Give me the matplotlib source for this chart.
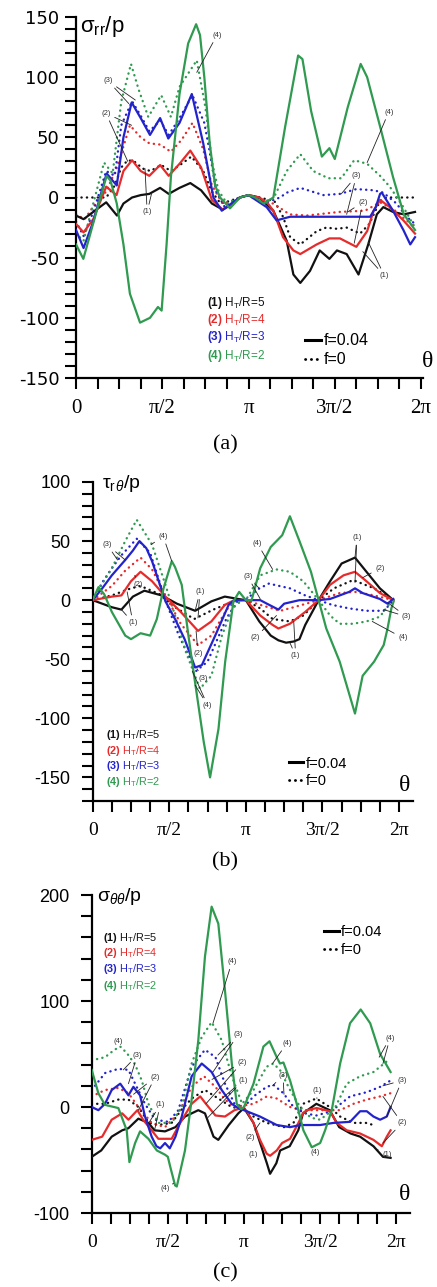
import numpy as np
import matplotlib
matplotlib.use('Agg')
import matplotlib.pyplot as plt
from matplotlib.ticker import FixedLocator, MultipleLocator, NullFormatter
from matplotlib.lines import Line2D

plt.rcParams.update({
    'font.family': 'Liberation Sans',
    'mathtext.fontset': 'custom',
    'mathtext.rm': 'Liberation Sans',
    'mathtext.it': 'Liberation Sans:italic',
    'mathtext.bf': 'Liberation Sans:bold',
    'axes.unicode_minus': False,
})

# --- data: (k, value) with theta = k * pi/8 ---
# panel (a) sigma_rr / p
a_black_solid = [(0, -15), (0.35, -18), (0.8, -12), (1.4, -4), (1.9, -15), (2.2, -5), (2.6, 0), (3.0, 2), (3.4, 3),
                 (3.9, 8), (4.3, 3), (4.8, 8), (5.3, 12), (5.8, 6), (6.3, -5), (6.8, -10), (7.2, -6), (7.6, 0), (8.0, 2),
                 (8.5, 0), (9.15, -11), (9.77, -36), (10.08, -64), (10.4, -71), (10.85, -61), (11.3, -44), (11.75, -51),
                 (12.1, -44), (12.55, -47), (13.1, -64), (13.55, -39), (13.95, -14), (14.25, -8), (14.7, -12),
                 (15.2, -14), (15.72, -12)]
a_black_dotted = [(0, 0), (1.4, 0), (1.8, 10), (2.1, 25), (2.4, 31), (2.7, 30), (3.1, 24), (3.45, 22), (3.95, 27),
                  (4.4, 22), (4.9, 28), (5.35, 34), (5.9, 22), (6.3, 5), (6.7, -5), (7.1, -3), (7.6, 0), (8.0, 2),
                  (8.5, 0), (9.2, -3), (9.6, -16), (9.93, -33), (10.4, -39), (11.16, -28), (11.6, -25), (12.09, -26),
                  (12.55, -25), (13.17, -30), (13.6, -22), (14.09, -3), (14.4, 0), (15.72, 0)]
a_red_solid = [(0, -22), (0.35, -29), (0.8, -18), (1.4, 9), (1.88, 2), (2.2, 22), (2.6, 31), (3.0, 22), (3.4, 18),
               (3.9, 27), (4.3, 18), (4.8, 28), (5.3, 39), (5.8, 25), (6.3, -2), (6.8, -10), (7.2, -6), (7.6, 0),
               (8.0, 2), (8.5, 0), (8.9, -5), (9.15, -11), (9.6, -33), (10.08, -44), (10.4, -47), (11.16, -39),
               (11.75, -34), (12.24, -34), (13.0, -41), (13.5, -28), (13.8, -11), (14.1, -2), (14.55, -8),
               (15.18, -19), (15.72, -30)]
a_red_dotted = [(0, -14), (0.4, -18), (0.9, -5), (1.4, 5), (1.9, 25), (2.5, 60), (3.0, 50), (3.4, 45), (3.9, 44),
                (4.4, 38), (4.9, 48), (5.4, 62), (5.9, 40), (6.3, 10), (6.8, -5), (7.2, -3), (7.6, 0), (8.0, 2),
                (8.6, -4), (9.15, -5), (9.9, -14), (10.7, -15), (12.2, -12), (13.4, -11), (14.1, -4), (14.8, -11),
                (15.72, -25)]
a_blue_solid = [(0, -27), (0.35, -42), (0.8, -20), (1.42, 20), (1.89, 10), (2.2, 50), (2.58, 79), (3.0, 66),
                (3.43, 52), (3.9, 66), (4.28, 49), (4.8, 62), (5.37, 86), (5.9, 45), (6.37, 0), (6.76, -11),
                (7.2, -5), (7.6, 0), (8.0, 2), (8.84, -8), (9.3, -19), (9.93, -16), (13.64, -16), (13.9, -8),
                (14.1, 3), (14.18, 4), (14.7, -11), (15.18, -27), (15.5, -39), (15.72, -33)]
a_blue_dotted = [(0, -20), (0.35, -32), (0.8, -12), (1.4, 22), (1.8, 18), (2.1, 60), (2.6, 80), (3.0, 68),
                 (3.4, 55), (3.9, 64), (4.3, 52), (4.8, 66), (5.4, 85), (5.95, 62), (6.2, 38), (6.5, 5), (6.9, -8),
                 (7.3, -3), (7.6, 0), (8.0, 2), (8.84, -4), (9.46, 0), (9.77, 4), (10.4, 8), (11.47, 2), (12.24, 3),
                 (13.0, 7), (13.8, 6), (14.25, 4), (14.86, -5), (15.33, -16), (15.72, -22)]
a_green_solid = [(0, -39), (0.34, -51), (0.96, -11), (1.42, 18), (1.6, 14), (1.89, -5), (2.2, -39), (2.5, -80),
                 (2.97, -104), (3.43, -100), (3.8, -91), (3.97, -94), (4.2, -39), (4.4, 17), (4.8, 86), (5.2, 128),
                 (5.57, 144), (5.75, 135), (5.95, 100), (6.2, 45), (6.45, 10), (6.68, 0), (7.14, -9), (7.6, 0),
                 (8.0, 2), (8.3, 0), (8.7, -5), (9.15, 0), (9.7, 59), (10.3, 118), (10.5, 115), (10.9, 72),
                 (11.4, 34), (11.75, 41), (12.0, 32), (12.6, 75), (13.2, 111), (13.5, 100), (14.1, 59),
                 (14.7, 17), (15.2, -14), (15.72, -27)]
a_green_dotted = [(0, -30), (0.35, -36), (0.8, -5), (1.3, 29), (1.7, 20), (2.1, 80), (2.55, 111), (2.9, 90),
                  (3.35, 67), (3.95, 85), (4.4, 67), (4.8, 92), (5.6, 114), (6.0, 75), (6.3, 30), (6.6, 6),
                  (7.0, -5), (7.6, 0), (8.0, 2), (8.6, -4), (9.15, -1), (9.77, 22), (10.4, 36), (11.0, 22),
                  (11.7, 16), (12.3, 16), (12.9, 31), (13.5, 28), (14.1, 18), (14.55, 9), (15.18, -8),
                  (15.72, -25)]

# panel (b) tau_rtheta / p
b_black_solid = [(0, 0), (0.5, -3), (1.0, -6), (1.5, -8), (2.1, 3), (2.7, 8), (3.6, 4), (4.4, -3), (5.35, -9),
                 (6.2, -1), (6.9, 3), (7.6, 1), (8.0, 0), (8.7, -18), (9.3, -30), (9.7, -34), (10.1, -36),
                 (10.5, -35), (10.8, -33), (11.1, -21), (11.8, 0), (12.4, 16), (13.0, 31), (13.7, 36), (14.3, 24),
                 (15.0, 10), (15.7, 0)]
b_black_dotted = [(0, 0), (1.0, 4), (2.0, 10), (2.5, 12), (3.5, 5), (4.2, -5), (5.3, -16), (6.3, -8), (7.5, 0),
                  (8.0, 0), (8.75, -7), (9.4, -16), (10.3, -18), (11.0, -13), (11.8, 0), (12.6, 10), (13.6, 17),
                  (14.7, 10), (15.7, 0)]
b_red_solid = [(0, 0), (1.0, 3), (1.5, 4), (2.0, 16), (2.5, 24), (3.1, 16), (3.8, 3), (4.6, -10), (5.5, -26),
               (6.2, -18), (6.9, -4), (7.4, 0), (8.0, 0), (8.75, -13), (9.4, -21), (9.7, -24), (10.3, -20),
               (11.1, -10), (11.8, 0), (12.4, 13), (13.1, 21), (13.7, 24), (14.3, 16), (15.0, 6), (15.7, 0)]
b_red_dotted = [(0, 0), (1.0, 12), (1.7, 25), (2.5, 36), (3.1, 26), (3.8, 4), (4.6, -20), (5.5, -38), (6.2, -30),
                (7.0, -8), (7.5, 0), (8.0, 0), (8.75, -4), (9.8, -9), (10.5, -6), (11.8, 0), (12.9, 6), (13.7, 7),
                (14.7, 4), (15.7, 0)]
b_blue_solid = [(0, 0), (0.5, 10), (1.0, 21), (1.7, 34), (2.1, 42), (2.44, 50), (2.8, 44), (3.1, 33), (3.8, -1),
                (4.3, -16), (4.8, -33), (5.35, -57), (5.7, -55), (6.4, -30), (7.1, -4), (7.4, 0), (8.0, 0),
                (8.75, 0), (9.1, -3), (9.7, -8), (10.0, -3), (10.8, 0), (11.8, 0), (12.4, 1), (12.9, 4), (13.4, 7),
                (13.7, 10), (14.1, 6), (15.0, 1), (15.4, -3), (15.7, 1)]
b_blue_dotted = [(0, 0), (0.5, 15), (1.0, 27), (1.5, 38), (2.3, 52), (3.0, 40), (3.8, 0), (4.5, -30), (5.4, -60),
                 (6.0, -52), (7.0, -15), (7.6, 0), (8.0, 0), (8.6, 9), (9.2, 14), (10.3, 10), (11.1, 4), (11.8, 0),
                 (12.5, -4), (13.4, -7), (14.3, -9), (15.2, -9), (15.5, -4), (15.7, 0)]
b_green_solid = [(0, 0), (0.3, 11), (0.6, 5), (1.0, -10), (1.7, -30), (2.0, -33), (2.5, -28), (3.0, -30),
                 (3.35, -16), (3.7, 10), (4.13, 33), (4.3, 28), (4.65, 13), (5.0, -30), (5.35, -70), (5.8, -120),
                 (6.13, -150), (6.57, -109), (6.92, -52), (7.35, -1), (7.65, 7), (8.0, 0), (8.3, 0), (8.75, 27),
                 (9.3, 45), (9.6, 50), (9.9, 55), (10.3, 71), (10.8, 50), (11.4, 24), (11.8, 0), (12.2, -24),
                 (12.9, -52), (13.7, -96), (14.1, -64), (14.7, -52), (15.2, -38), (15.4, -24), (15.6, -7),
                 (15.72, -1)]
b_green_dotted = [(0, 0), (0.5, 14), (1.0, 27), (1.7, 50), (2.3, 68), (3.1, 47), (3.8, 13), (4.3, -13), (4.8, -41),
                  (5.6, -75), (6.2, -64), (6.75, -30), (7.3, -7), (7.8, 0), (8.0, 0), (8.75, 21), (9.6, 26),
                  (10.3, 24), (11.0, 16), (11.8, 0), (12.4, -13), (12.9, -20), (13.6, -20), (14.3, -18),
                  (15.0, -14), (15.6, -1)]

# panel (c) sigma_thetatheta / p
c_black_solid = [(0, -47), (0.5, -41), (1.05, -28), (1.6, -22), (1.93, -20), (2.45, -11), (2.98, -15), (3.3, -22),
                 (3.85, -23), (4.4, -19), (4.9, -9), (5.6, -3), (5.95, -6), (6.4, -28), (6.65, -31), (7.2, -17),
                 (7.7, -6), (8.0, -1), (8.5, -15), (8.85, -34), (9.2, -53), (9.37, -63), (9.7, -53), (9.9, -41),
                 (10.4, -37), (10.85, -22), (11.1, -6), (11.8, 3), (12.5, -3), (13.0, -19), (13.6, -25),
                 (14.1, -28), (14.8, -37), (15.3, -47), (15.7, -48)]
c_black_dotted = [(0, 3), (0.7, 3), (1.4, 7), (1.93, 7), (2.45, 0), (3.0, -15), (3.5, -17), (4.2, -15), (4.7, -3),
                  (5.25, 8), (5.95, 16), (6.65, 8), (7.35, 0), (8.0, -2), (8.5, -9), (9.2, -15), (10.1, -19),
                  (10.6, -15), (11.1, 3), (11.8, 8), (12.5, 0), (13.05, -9), (13.75, -15), (14.4, -15),
                  (14.8, -17)]
c_red_solid = [(0, -31), (0.55, -28), (1.05, -12), (1.6, -6), (1.93, -12), (2.4, -3), (2.7, -12), (3.15, -22),
               (3.5, -30), (4.2, -30), (4.65, -15), (5.25, 3), (5.7, 10), (6.0, 3), (6.5, -8), (7.0, -9),
               (7.5, -3), (7.9, -1), (8.15, -4), (8.5, -15), (8.84, -31), (9.19, -44), (9.37, -46), (9.72, -41),
               (10.0, -34), (10.42, -30), (10.86, -15), (11.1, -6), (11.3, -3), (11.82, -1), (12.52, -4),
               (12.87, -15), (13.4, -22), (14.1, -25), (14.8, -31), (15.24, -37), (15.5, -28), (15.7, -22)]
c_red_dotted = [(0, 10), (0.7, 16), (1.4, 18), (1.93, 13), (2.45, 0), (3.15, -15), (3.85, -19), (4.55, -6),
                (5.25, 19), (5.9, 29), (6.5, 19), (7.0, 7), (7.5, 0), (8.5, 3), (9.2, 10), (9.72, 8), (10.42, 0),
                (11.0, -3), (11.8, -3), (12.5, -3), (13.05, -3), (13.75, 3), (14.45, 7), (15.15, 10), (15.7, 13)]
c_blue_solid = [(0, 0), (0.35, -3), (0.7, 3), (1.05, 16), (1.5, 22), (1.93, 11), (2.19, 19), (2.54, 11), (2.8, -9),
                (3.15, -28), (3.4, -37), (3.6, -39), (3.85, -34), (4.1, -39), (4.4, -28), (4.73, -9), (5.25, 29),
                (5.78, 41), (6.3, 33), (6.83, 16), (7.35, 3), (7.7, -1), (8.0, -3), (8.84, -9), (9.72, -17),
                (10.42, -19), (10.95, -17), (12.0, -17), (12.7, -15), (13.57, -14), (14.1, -4), (14.45, -4),
                (14.8, -9), (15.15, -12), (15.5, -9), (15.7, 0)]
c_blue_dotted = [(0, 16), (0.7, 32), (1.4, 36), (1.93, 35), (2.28, 22), (2.8, 3), (3.33, -12), (4.03, -14),
                 (4.55, -3), (5.25, 38), (5.95, 54), (6.5, 47), (7.0, 22), (7.5, 3), (8.0, 0), (8.5, 10),
                 (9.19, 19), (9.54, 21), (10.07, 13), (10.6, 0), (11.2, -6), (11.8, -8), (12.4, -5), (12.87, 0),
                 (13.57, 10), (14.45, 14), (15.15, 19), (15.7, 25)]
c_green_solid = [(0, 35), (0.35, 13), (0.7, 2), (1.4, -1), (1.84, -22), (1.98, -52), (2.28, -34), (2.54, -23),
                 (2.98, -30), (3.42, -41), (3.85, -45), (4.0, -47), (4.12, -56), (4.38, -74), (4.47, -75),
                 (4.9, -41), (5.25, 7), (5.6, 63), (5.95, 142), (6.3, 189), (6.65, 173), (7.0, 110), (7.36, 41),
                 (7.62, 3), (7.85, -2), (8.0, 0), (8.5, 22), (9.02, 57), (9.34, 62), (9.72, 47), (9.89, 41),
                 (10.07, 42), (10.42, 25), (10.77, 3), (11.12, -22), (11.56, -38), (12.0, -34), (12.26, -22),
                 (12.61, -3), (13.05, 41), (13.57, 79), (14.13, 92), (14.63, 79), (15.15, 50), (15.7, 33)]
c_green_dotted = [(0, 44), (0.7, 47), (1.2, 54), (1.5, 57), (1.84, 51), (2.28, 40), (2.63, 25), (2.98, 3),
                  (3.5, -15), (4.2, -15), (4.73, 0), (5.25, 41), (5.78, 66), (6.3, 80), (6.83, 63), (7.36, 29),
                  (7.9, 3), (8.5, 16), (9.19, 38), (9.54, 41), (9.89, 35), (10.42, 16), (10.95, 0), (11.5, -10),
                  (12.0, -12), (12.5, -5), (12.8, 0), (13.4, 22), (14.1, 29), (14.8, 33), (15.5, 43), (15.7, 44)]

curve_labels = ['(1)', '(2)', '(3)', '(4)']
ratios = ['5', '4', '3', '2']
colors = ['#111111', '#e52b2b', '#2323cc', '#2f9a50']

# annotation labels: (text, text position (k, v), targets [(k, v), ...])
a_notes = [('(3)', (1.48, 97), [(2.45, 78), (2.75, 81)]),
           ('(2)', (1.39, 70), [(2.58, 60), (2.4, 30)]),
           ('(1)', (3.3, -12), [(3.2, 24), (3.5, 3)]),
           ('(4)', (6.54, 135), [(5.6, 104)]),
           ('(4)', (14.5, 71), [(13.5, 29)]),
           ('(3)', (13.0, 18), [(12.3, 3), (12.55, -14)]),
           ('(2)', (13.3, -4), [(12.6, -12), (12.9, -38)]),
           ('(1)', (14.3, -65), [(13.3, -45), (13.55, -37)])]
b_notes = [('(3)', (0.75, 47), [(1.3, 34), (1.7, 34)]),
           ('(2)', (2.37, 13), [(2.2, 21)]),
           ('(1)', (2.1, -19), [(1.5, -8), (1.8, 7)]),
           ('(4)', (3.68, 54), [(3.05, 47), (4.13, 33)]),
           ('(1)', (5.6, 7), [(5.35, -9), (5.5, -15)]),
           ('(2)', (5.5, -45), [(5.4, -26), (5.5, -38)]),
           ('(3)', (5.75, -66), [(5.45, -58)]),
           ('(4)', (6.0, -89), [(5.35, -72), (5.2, -60)]),
           ('(4)', (8.6, 48), [(9.4, 26)]),
           ('(3)', (8.1, 20), [(8.75, 1), (8.7, 10)]),
           ('(2)', (8.5, -32), [(9.6, -13)]),
           ('(1)', (10.6, -47), [(10.3, -36), (10.5, -18)]),
           ('(1)', (13.8, 53), [(13.7, 36), (13.7, 15)]),
           ('(2)', (15.0, 27), [(14.1, 19)]),
           ('(3)', (16.4, -14), [(15.2, -8), (15.4, -2)]),
           ('(4)', (16.2, -32), [(14.6, -18)])]
c_notes = [('(4)', (1.39, 62), []),
           ('(3)', (2.4, 49), [(1.66, 35), (1.93, 22)]),
           ('(2)', (3.33, 28), [(2.2, 12), (2.45, -3)]),
           ('(1)', (3.6, 2), [(3.0, -15), (3.3, -22)]),
           ('(4)', (3.85, -77), [(4.3, -72)]),
           ('(4)', (7.37, 137), [(6.37, 79)]),
           ('(3)', (7.68, 68), [(6.63, 49), (6.37, 33)]),
           ('(2)', (7.9, 42), [(6.32, 26), (6.0, 3)]),
           ('(1)', (7.95, 25), [(6.84, 8), (6.1, -10)]),
           ('(4)', (10.25, 60), [(9.5, 41)]),
           ('(3)', (10.05, 30), [(9.5, 20), (10.1, 12)]),
           ('(2)', (8.3, -29), [(8.84, -15)]),
           ('(1)', (8.47, -45), [(8.95, -38)]),
           ('(1)', (11.83, 16), [(11.83, 8)]),
           ('(4)', (11.73, -43), []),
           ('(4)', (15.67, 65), [(15.1, 47), (15.3, 41)]),
           ('(3)', (16.3, 25), [(15.3, 20), (15.5, -9)]),
           ('(2)', (16.3, -15), [(15.3, 10), (15.3, -34)]),
           ('(1)', (15.5, -45), [(15.0, -40), (15.3, -47)])]

FIG_W, FIG_H = 437, 1287
DOT = (0, (0.1, 2.2))

panels = [
    dict(rect=(76, 17, 423, 378), kmax=16.09, ylim=(-150, 150), major=50, minor=10,
         curves=[(a_black_solid, a_black_dotted), (a_red_solid, a_red_dotted),
                 (a_blue_solid, a_blue_dotted), (a_green_solid, a_green_dotted)],
         notes=a_notes, ylabel='σ$_{\\rm rr}$/p', ylabel_fs=16, ylabel_pos=(0.012, 0.975),
         ytick_font=('DejaVu Sans', 13), ypad=4, xtick_fs=15, theta_pos=(1.012, 0.045),
         leg_x=0.378, leg_y=[0.208, 0.161, 0.114, 0.060], leg_fs=8.5, fleg_fs=11.5,
         fleg=dict(loc='lower left', bbox_to_anchor=(0.66, 0.03)), caption='(a)', cap_y=445),
    dict(rect=(92.7, 482, 413, 801), kmax=16.73, ylim=(-170, 100), major=50, minor=10,
         curves=[(b_black_solid, b_black_dotted), (b_red_solid, b_red_dotted),
                 (b_blue_solid, b_blue_dotted), (b_green_solid, b_green_dotted)],
         notes=b_notes, ylabel='τ$_{\\rm r}$$_{θ}$/p', ylabel_fs=14, ylabel_pos=(0.03, 0.995),
         ytick_font=('Liberation Sans', 13), ypad=8, xtick_fs=14, theta_pos=(0.975, 0.05),
         leg_x=0.04, leg_y=[0.207, 0.157, 0.110, 0.060], leg_fs=7.8, fleg_fs=10.5,
         fleg=dict(loc='lower left', bbox_to_anchor=(0.612, 0.04)), caption='(b)', cap_y=862),
    dict(rect=(91.7, 895, 410, 1213), kmax=16.72, ylim=(-100, 200), major=100, minor=20,
         curves=[(c_black_solid, c_black_dotted), (c_red_solid, c_red_dotted),
                 (c_blue_solid, c_blue_dotted), (c_green_solid, c_green_dotted)],
         notes=c_notes, ylabel='σ$_{θθ}$/p', ylabel_fs=14, ylabel_pos=(0.016, 0.995),
         ytick_font=('Liberation Sans', 13), ypad=8, xtick_fs=14, theta_pos=(0.984, 0.057),
         leg_x=0.035, leg_y=[0.865, 0.818, 0.767, 0.714], leg_fs=7.8, fleg_fs=10.5,
         fleg=dict(loc='upper left', bbox_to_anchor=(0.73, 0.905)), caption='(c)', cap_y=1273),
]

fig = plt.figure(figsize=(FIG_W / 100, FIG_H / 100), dpi=100)

for p in panels:
    l, t, r, b = p['rect']
    ax = fig.add_axes([l / FIG_W, 1 - b / FIG_H, (r - l) / FIG_W, (b - t) / FIG_H])
    for (solid, dotted), col in zip(p['curves'], colors):
        ks, vs = zip(*dotted)
        ax.plot(np.array(ks) * np.pi / 8, vs, color=col, lw=1.7, ls=DOT,
                dash_capstyle='round', zorder=2)
        ks, vs = zip(*solid)
        ax.plot(np.array(ks) * np.pi / 8, vs, color=col, lw=1.6, solid_joinstyle='round', zorder=3)

    ax.set_xlim(0, p['kmax'] * np.pi / 8)
    ax.set_ylim(*p['ylim'])
    for s in ['top', 'right']:
        ax.spines[s].set_visible(False)
    for s in ['left', 'bottom']:
        ax.spines[s].set_linewidth(1.6)

    ax.xaxis.set_major_locator(FixedLocator([0, np.pi / 2, np.pi, 1.5 * np.pi, 2 * np.pi]))
    ax.xaxis.set_minor_locator(MultipleLocator(np.pi / 8))
    ax.set_xticklabels(['0', 'π/2', 'π', '3π/2', '2π'], fontfamily='Liberation Serif', fontsize=p['xtick_fs'])
    ax.yaxis.set_major_locator(MultipleLocator(p['major']))
    ax.yaxis.set_minor_locator(MultipleLocator(p['minor']))
    ax.yaxis.set_minor_formatter(NullFormatter())
    ax.tick_params(which='both', direction='out', length=8, width=1.5, color='k')
    ax.tick_params(axis='x', which='major', pad=7)
    ax.tick_params(axis='y', which='major', pad=p['ypad'])
    for lab in ax.get_yticklabels():
        lab.set_fontfamily(p['ytick_font'][0])
        lab.set_fontsize(p['ytick_font'][1])

    ax.text(*p['ylabel_pos'], p['ylabel'], transform=ax.transAxes, fontsize=p['ylabel_fs'],
            ha='left', va='center')
    ax.text(*p['theta_pos'], 'θ', transform=ax.transAxes, fontsize=17,
            fontfamily='Liberation Serif', ha='center', va='center')

    # curve labels with leader lines
    for text, pos, targets in p['notes']:
        tpos = (pos[0] * np.pi / 8, pos[1])
        if not targets:
            ax.text(*tpos, text, fontsize=5.5, color='#333333', ha='center', va='center', zorder=5)
        for i, (tk, tv) in enumerate(targets):
            ax.annotate(text, xy=(tk * np.pi / 8, tv), xytext=tpos, fontsize=5.5,
                        color='#333333' if i == 0 else 'none', ha='center', va='center',
                        arrowprops=dict(arrowstyle='-', lw=0.6, color='#222222',
                                        shrinkA=1, shrinkB=0), zorder=5)

    # H_T/R legend
    for lab, rat, col, yy in zip(curve_labels, ratios, colors, p['leg_y']):
        ax.text(p['leg_x'], yy, '$\\bf{' + lab + '}$ H$_{\\rm T}$/R=' + rat, color=col,
                transform=ax.transAxes, fontsize=p['leg_fs'], ha='left', va='center')

    handles = [Line2D([], [], color='k', lw=2.2),
               Line2D([], [], color='k', lw=2.0, ls=(0, (0.1, 2.0)), dash_capstyle='round')]
    ax.legend(handles, ['f=0.04', 'f=0'], frameon=False, fontsize=p['fleg_fs'], handlelength=1.0,
              handletextpad=0.15, labelspacing=0.25, borderpad=0, borderaxespad=0, **p['fleg'])

    fig.text(225 / FIG_W, 1 - p['cap_y'] / FIG_H, p['caption'], fontsize=16,
             fontfamily='Liberation Serif', ha='center', va='center')

fig.savefig('out.png', dpi=100)
